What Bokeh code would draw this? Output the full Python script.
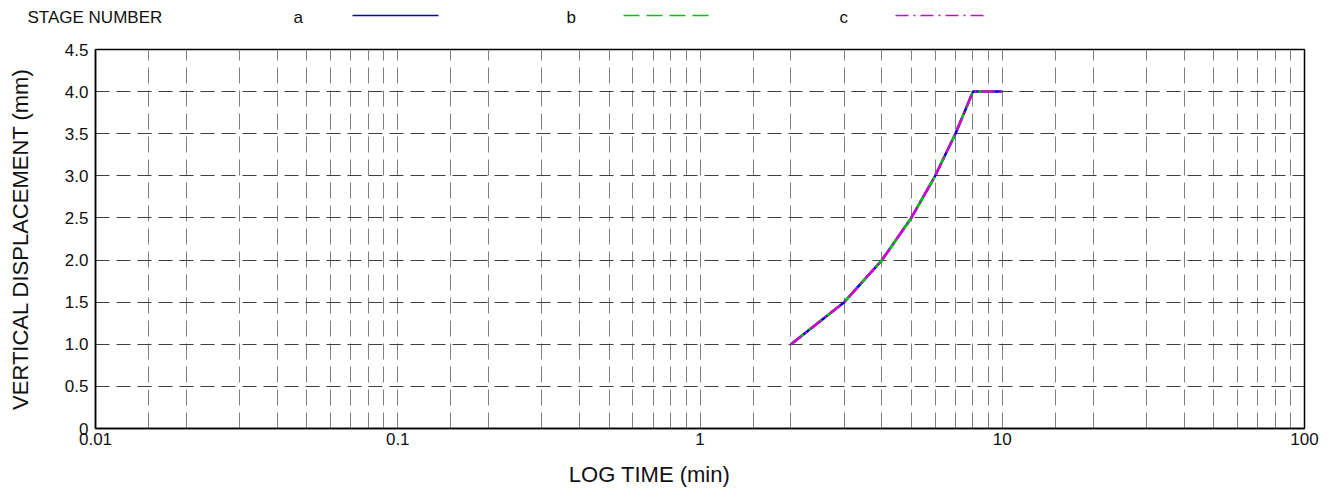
from bokeh.plotting import figure
from bokeh.layouts import column
from bokeh.models import Range1d, FixedTicker, CustomJSTickFormatter, Label
from bokeh.embed import file_html
from bokeh.resources import INLINE

# ---- data ----
stage_labels = ["a", "b", "c"]
time_a = [2, 3, 4, 5, 6, 7, 8, 9, 10]
disp_a = [1.0, 1.5, 2.0, 2.5, 3.0, 3.5, 4.0, 4.0, 4.0]
time_b = [2, 3, 4, 5, 6, 7, 8, 9, 10]
disp_b = [1.0, 1.5, 2.0, 2.5, 3.0, 3.5, 4.0, 4.0, 4.0]
time_c = [2, 3, 4, 5, 6, 7, 8, 9, 10]
disp_c = [1.0, 1.5, 2.0, 2.5, 3.0, 3.5, 4.0, 4.0, 4.0]
x_ticks = [0.01, 0.1, 1, 10, 100]
y_ticks = [0, 0.5, 1.0, 1.5, 2.0, 2.5, 3.0, 3.5, 4.0, 4.5]
minor_multipliers = [1.5, 2, 3, 4, 5, 6, 7, 8, 9]
x_title = "LOG TIME (min)"
y_title = "VERTICAL DISPLACEMENT (mm)"
legend_title = "STAGE NUMBER"

FONT = "Liberation Sans"
colors = ["#0000cc", "#00c800", "#d400d4"]
dashes = ["solid", "16 7", "13 5 2 5"]
series = [(time_a, disp_a), (time_b, disp_b), (time_c, disp_c)]

LEFT, RIGHT = 95, 31
W = 1335
LEG_H = 36
BOT_H = 28
MAIN_H = 488 - LEG_H - BOT_H


def strip(h):
    f = figure(width=W, height=h, output_backend="svg", toolbar_location=None,
               x_range=Range1d(0, W), y_range=Range1d(h, 0),
               x_axis_location=None, y_axis_location=None,
               min_border=0, outline_line_color=None)
    f.grid.visible = False
    return f


# ---- legend strip (data units equal page pixels) ----
leg = strip(LEG_H)
leg.add_layout(Label(x=27, y=17, text=legend_title, text_font=FONT,
                     text_font_size="17px", text_baseline="middle", text_color="#111111"))
label_x = [293, 566, 839]
line_x = [(352, 438), (623, 712), (895, 983)]
for lab, lx, (x0, x1), col, dsh in zip(stage_labels, label_x, line_x, colors, dashes):
    leg.add_layout(Label(x=lx, y=17, text=lab, text_font=FONT, text_font_size="17px",
                         text_baseline="middle", text_color="#111111"))
    leg.line([x0, x1], [15, 15], line_color=col, line_width=1.5, line_dash=dsh)

# ---- main plot ----
minor = []
for d in [0.01, 0.1, 1, 10]:
    for k in minor_multipliers:
        minor.append(round(d * k, 6))

p = figure(width=W, height=MAIN_H, output_backend="svg", toolbar_location=None,
           x_axis_type="log", x_range=Range1d(0.01, 100), y_range=Range1d(0, 4.5),
           min_border_left=LEFT, min_border_right=RIGHT, min_border_top=49 - LEG_H,
           min_border_bottom=MAIN_H - (428 - LEG_H), outline_line_color="black",
           outline_line_width=1.5)

p.xaxis.ticker = FixedTicker(ticks=x_ticks, minor_ticks=minor)
p.yaxis.ticker = FixedTicker(ticks=y_ticks)
p.xaxis.formatter = CustomJSTickFormatter(code="return String(Number(tick.toPrecision(6)));")
p.yaxis.formatter = CustomJSTickFormatter(code="return tick == 0 ? '0' : tick.toFixed(1);")

for ax in [p.xaxis, p.yaxis]:
    ax.major_tick_out = 0
    ax.major_tick_in = 0
    ax.minor_tick_out = 0
    ax.minor_tick_in = 0
    ax.axis_line_color = "black"
    ax.axis_line_width = 1.5
    ax.major_label_text_font = FONT
    ax.major_label_text_font_size = "17px"
    ax.major_label_text_color = "#111111"
    ax.axis_label_text_font = FONT
    ax.axis_label_text_font_size = "22px"
    ax.axis_label_text_font_style = "normal"
    ax.axis_label_text_color = "#111111"

p.yaxis.axis_label = y_title
p.xaxis.major_label_standoff = 4
p.yaxis.major_label_standoff = 7
p.yaxis.axis_label_standoff = 29

p.xgrid.grid_line_color = "#808080"
p.xgrid.grid_line_dash = "16 7"
p.xgrid.minor_grid_line_color = "#808080"
p.xgrid.minor_grid_line_dash = "16 7"
p.ygrid.grid_line_color = "#404040"
p.ygrid.grid_line_dash = "14 7"

for (t, d), col, dsh in zip(series, colors, dashes):
    p.line(t, d, line_color=col, line_width=2.5, line_dash=dsh)

# ---- x-axis title strip ----
bot = strip(BOT_H)
bot.add_layout(Label(x=649, y=14, text=x_title, text_font=FONT, text_font_size="22px",
                     text_align="center", text_baseline="middle", text_color="#111111"))

layout = column(column(leg), column(p), column(bot), spacing=0)
open("out.html", "w").write(file_html(layout, INLINE))
